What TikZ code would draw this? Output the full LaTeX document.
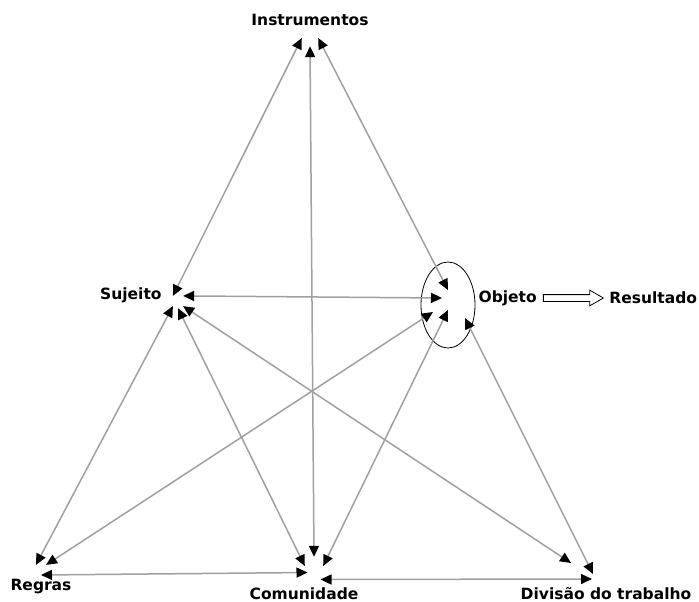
\documentclass[tikz,border=0pt]{standalone}
\usepackage{fontspec}
\setmainfont{DejaVu Sans}
\usepackage{xcolor}
\usepackage{tikz}
\usetikzlibrary{arrows.meta,positioning,shapes.geometric,shapes.arrows}

\definecolor{linegray}{RGB}{160,160,160}

\begin{document}
\begin{tikzpicture}[
	%	style def
    x=1pt, y=-1pt,
    vertex/.style={circle, minimum size=14pt, inner sep=0pt},
    label text/.style={font=\fontsize{15.5}{18}\selectfont\bfseries, text=black, inner sep=1pt},
    link/.style={draw=linegray, line width=1.5pt,
        {Triangle[length=11pt,width=10pt,color=black]}-{Triangle[length=11pt,width=10pt,color=black]}}
    ]
    \useasboundingbox (0,0) rectangle (699,602);

	% corners of the triangle
    \node[vertex, minimum size=16pt] (ins) at (310,38) {};
    \node[vertex] (suj) at (178,301) {};
    \node[vertex] (ob) at (449,304) {};
    \node[vertex] (reg) at (41,570) {};
    \node[vertex, minimum size=18pt] (com) at (314,566) {};
    \node[vertex] (div) at (589,572) {};

    % labels
    \node[label text, above=3pt of ins] (insl) {Instrumentos};
    \node[label text, left=8pt of suj, yshift=6pt] (sujl) {Sujeito};
    \node[draw, ellipse, minimum width=54pt, minimum height=86pt, inner sep=0pt, line width=0.8pt] (obring) at (448,305) {};
    \node[label text, right=2pt of obring, yshift=7pt] (obl) {Objeto};
    \node[single arrow, draw, line width=0.8pt, minimum height=60pt, inner sep=3pt,
          single arrow head extend=4.5pt, single arrow tip angle=60, right=5pt of obl] (resarrow) {};
    \node[label text, right=4pt of resarrow] (resl) {Resultado};
    \node[label text, below=1pt of reg] (regl) {Regras};
    \node[label text, below=11pt of com, xshift=-10pt] (coml) {Comunidade};
    \node[label text, below=7pt of div, xshift=17pt] (divl) {Divisão do trabalho};

    % connections (heads kept apart round each corner)
    \draw[link] (ins.west) -- (suj.north west);
    \draw[link] (ins.south) -- (com.north);
    \draw[link] (ins.east) -- ([shift={(-1,-14)}]ob.center);
    \draw[link] (suj.north east) -- ([shift={(-7,-6)}]ob.center);
    \draw[link] (suj.south west) -- (reg.north west);
    \draw[link] (suj.south) -- (com.west);
    \draw[link] (suj.south east) -- ([shift={(-18,-9)}]div.center);
    \draw[link] ([shift={(-16,8)}]ob.center) -- (reg.north east);
    \draw[link] ([shift={(-1,6)}]ob.center) -- (com.east);
    \draw[link] ([shift={(16,14)}]ob.center) -- ([shift={(4,2)}]div.center);
    \draw[link] ([yshift=-5pt]reg.center) -- (com.south west);
    \draw[link] ([yshift=-7pt]com.south east) -- ([shift={(3,7)}]div.center);

\end{tikzpicture}
\end{document}
